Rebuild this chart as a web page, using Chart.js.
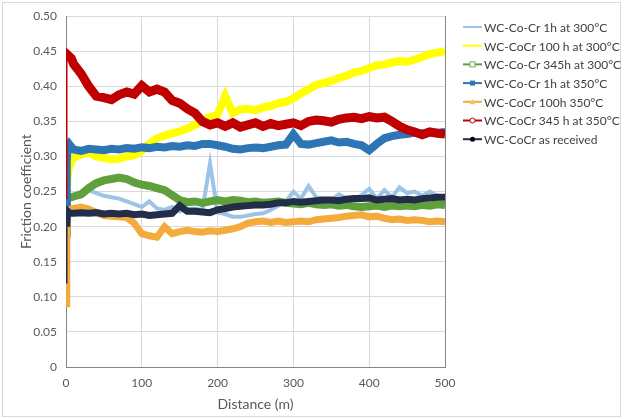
<!DOCTYPE html>
<html>
<head>
<meta charset="utf-8">
<script src="https://cdn.jsdelivr.net/npm/chart.js@4"></script>
<style>
  html, body { margin: 0; padding: 0; background: #fff; }
  #wrap { width: 624px; height: 419px; position: relative; }
</style>
</head>
<body>
<div id="wrap"><canvas id="frictionChart"></canvas></div>
<script>
// Distance (m) sampled along the tests
const distance = [0, 1, 2, 4, 7, 10, 20, 30, 40, 50, 60, 70, 80, 90, 100, 110, 120, 130, 140, 150,
  160, 170, 180, 190, 200, 210, 220, 230, 240, 250, 260, 270, 280, 290, 300, 310, 320, 330, 340, 350,
  360, 370, 380, 390, 400, 410, 420, 430, 440, 450, 460, 470, 480, 490, 500];

const seriesLabels = ['WC-Co-Cr 1h at 300°C', 'WC-CoCr 100 h at 300°C', 'WC-Co-Cr 345h at 300°C',
  'WC-Co-Cr 1h at 350°C', 'WC-CoCr 100h 350°C', 'WC-CoCr 345 h at 350°C', 'WC-CoCr as received'];

const cr1h300 = [0.22, 0.23, 0.235, 0.24, 0.245, 0.245, 0.25, 0.252, 0.248, 0.244, 0.242, 0.24, 0.236, 0.232, 0.228, 0.236, 0.226, 0.224, 0.228, 0.222,
  0.225, 0.226, 0.224, 0.29, 0.22, 0.218, 0.214, 0.214, 0.216, 0.218, 0.219, 0.224, 0.23, 0.236, 0.25, 0.24, 0.258, 0.242, 0.24, 0.238,
  0.246, 0.24, 0.238, 0.245, 0.254, 0.24, 0.252, 0.242, 0.256, 0.248, 0.25, 0.244, 0.25, 0.244, 0.242];

const cr100h300 = [0.21, 0.25, 0.27, 0.285, 0.293, 0.298, 0.303, 0.306, 0.300, 0.298, 0.296, 0.297, 0.300, 0.302, 0.308, 0.318, 0.326, 0.330, 0.333, 0.336,
  0.340, 0.345, 0.352, 0.356, 0.360, 0.386, 0.362, 0.367, 0.368, 0.366, 0.370, 0.372, 0.376, 0.378, 0.383, 0.390, 0.396, 0.402, 0.405, 0.408,
  0.412, 0.415, 0.420, 0.422, 0.426, 0.430, 0.431, 0.434, 0.436, 0.435, 0.438, 0.442, 0.446, 0.448, 0.450];

const cr345h300 = [0.24, 0.235, 0.24, 0.242, 0.242, 0.243, 0.246, 0.255, 0.262, 0.266, 0.268, 0.270, 0.268, 0.263, 0.260, 0.258, 0.255, 0.252, 0.245, 0.238,
  0.235, 0.236, 0.234, 0.236, 0.238, 0.236, 0.238, 0.237, 0.235, 0.236, 0.234, 0.235, 0.236, 0.234, 0.233, 0.232, 0.234, 0.232, 0.231, 0.232,
  0.230, 0.231, 0.229, 0.228, 0.229, 0.230, 0.228, 0.230, 0.229, 0.230, 0.229, 0.231, 0.230, 0.232, 0.231];

const cr1h350 = [0.22, 0.29, 0.315, 0.318, 0.314, 0.310, 0.308, 0.311, 0.310, 0.309, 0.311, 0.310, 0.312, 0.311, 0.313, 0.312, 0.314, 0.313, 0.315, 0.314,
  0.316, 0.315, 0.318, 0.318, 0.316, 0.314, 0.311, 0.310, 0.312, 0.313, 0.312, 0.314, 0.316, 0.317, 0.332, 0.318, 0.317, 0.319, 0.321, 0.323,
  0.320, 0.321, 0.318, 0.316, 0.309, 0.318, 0.326, 0.329, 0.331, 0.332, 0.334, 0.333, 0.335, 0.334, 0.335];

const cr100h350 = [0.09, 0.20, 0.215, 0.222, 0.225, 0.226, 0.228, 0.225, 0.220, 0.216, 0.215, 0.214, 0.213, 0.205, 0.190, 0.187, 0.185, 0.200, 0.190, 0.193,
  0.195, 0.193, 0.192, 0.194, 0.193, 0.195, 0.197, 0.200, 0.205, 0.207, 0.208, 0.206, 0.208, 0.206, 0.207, 0.208, 0.207, 0.210, 0.211, 0.212,
  0.213, 0.215, 0.216, 0.217, 0.214, 0.215, 0.212, 0.210, 0.211, 0.209, 0.210, 0.209, 0.207, 0.208, 0.207];

const cr345h350 = [0.24, 0.44, 0.445, 0.443, 0.440, 0.432, 0.418, 0.400, 0.386, 0.384, 0.381, 0.388, 0.392, 0.389, 0.401, 0.392, 0.396, 0.392, 0.380, 0.376,
  0.368, 0.362, 0.350, 0.345, 0.348, 0.343, 0.348, 0.342, 0.345, 0.348, 0.343, 0.347, 0.344, 0.346, 0.348, 0.344, 0.350, 0.352, 0.351, 0.349,
  0.353, 0.355, 0.356, 0.354, 0.357, 0.355, 0.356, 0.350, 0.343, 0.338, 0.335, 0.331, 0.335, 0.333, 0.332];

const asReceived = [0.12, 0.20, 0.222, 0.220, 0.219, 0.219, 0.220, 0.219, 0.220, 0.218, 0.219, 0.218, 0.219, 0.217, 0.218, 0.216, 0.217, 0.218, 0.219, 0.230,
  0.222, 0.222, 0.221, 0.220, 0.224, 0.226, 0.228, 0.229, 0.230, 0.231, 0.231, 0.232, 0.234, 0.234, 0.236, 0.235, 0.236, 0.237, 0.238, 0.238,
  0.237, 0.239, 0.240, 0.240, 0.241, 0.238, 0.239, 0.240, 0.238, 0.239, 0.238, 0.240, 0.241, 0.242, 0.242];

const seriesValues = [cr1h300, cr100h300, cr345h300, cr1h350, cr100h350, cr345h350, asReceived];

// styles (Excel-like)
const lineColors = ['#9DC3E6', '#FFFF00', '#5FA03C', '#2E75B6', '#F5AA3C', '#C00000', '#222D4A'];
const lineWidths = [4, 8, 8, 8, 7, 9, 7];
const legendMarkers = [null, null, 'squareOpen', 'square', 'triangle', 'circleOpen', 'circle'];
const markerColors = [null, null, '#70AD47', '#2E75B6', '#F5C26B', '#C00000', '#000000'];

const datasets = seriesValues.map((vals, i) => ({
  label: seriesLabels[i],
  data: distance.map((d, j) => ({ x: d, y: vals[j] })),
  borderColor: lineColors[i],
  backgroundColor: lineColors[i],
  borderWidth: lineWidths[i],
  pointRadius: 0,
  tension: 0,
  order: seriesValues.length - i,
  segment: {
    // first jump from the origin is drawn thin, as in the source
    borderWidth: ctx => (ctx.p0DataIndex === 0 && (i === 5 || i === 6)) ? 1.5 : lineWidths[i]
  }
}));

const frame = {
  id: 'frame',
  beforeDraw(chart) {
    const c = chart.ctx;
    c.save();
    c.fillStyle = '#fff';
    c.fillRect(0, 0, chart.width, chart.height);
    c.strokeStyle = '#D9D9D9';
    c.lineWidth = 1;
    c.strokeRect(2.5, 2.5, chart.width - 6, chart.height - 5);
    c.restore();
  },
  afterDatasetsDraw(chart) {
    const a = chart.chartArea, c = chart.ctx;
    c.save();
    c.strokeStyle = '#868686';
    c.lineWidth = 1;
    c.beginPath();
    c.moveTo(Math.round(a.right) + 0.5, a.top);
    c.lineTo(Math.round(a.right) + 0.5, a.bottom);
    c.stroke();
    c.restore();
  },
  afterDraw(chart) {
    // legend on the right
    const c = chart.ctx;
    const x0 = 463, y0 = 27, step = 18.7;
    c.save();
    c.font = '12px Lato, "Open Sans", sans-serif';
    c.textBaseline = 'middle';
    datasets.forEach((ds, i) => {
      const y = y0 + i * step;
      c.strokeStyle = ds.borderColor;
      c.lineWidth = 2;
      c.beginPath();
      c.moveTo(x0, y);
      c.lineTo(x0 + 19, y);
      c.stroke();
      const mx = x0 + 9.5, m = legendMarkers[i];
      c.fillStyle = markerColors[i];
      c.strokeStyle = markerColors[i];
      c.lineWidth = 1;
      if (m === 'square') c.fillRect(mx - 2.5, y - 2.5, 5, 5);
      if (m === 'squareOpen') { c.fillStyle = '#fff'; c.fillRect(mx - 2.5, y - 2.5, 5, 5); c.strokeRect(mx - 2.5, y - 2.5, 5, 5); }
      if (m === 'triangle') { c.beginPath(); c.moveTo(mx, y - 3); c.lineTo(mx + 3, y + 2.5); c.lineTo(mx - 3, y + 2.5); c.closePath(); c.fill(); }
      if (m === 'circle') { c.beginPath(); c.arc(mx, y, 2.5, 0, Math.PI * 2); c.fill(); }
      if (m === 'circleOpen') { c.fillStyle = '#fff'; c.beginPath(); c.arc(mx, y, 2.5, 0, Math.PI * 2); c.fill(); c.stroke(); }
      c.fillStyle = '#404040';
      c.fillText(ds.label, x0 + 21, y + 1);
    });
    c.restore();
  }
};

window.onload = function() {
  const ctx = document.getElementById('frictionChart').getContext('2d');
  new Chart(ctx, {
    type: 'line',
    data: { datasets: datasets },
    plugins: [frame],
    options: {
      responsive: true,
      maintainAspectRatio: false,
      animation: false,
      layout: { padding: { top: 16, right: 179, bottom: 0, left: 0 } },
      plugins: {
        legend: { display: false },
        tooltip: { enabled: false }
      },
      scales: {
        x: {
          type: 'linear',
          min: 0,
          max: 500,
          afterFit: s => { s.height = 52; },
          ticks: { stepSize: 100, padding: 9, color: '#595959', font: { family: 'Lato, "Open Sans", sans-serif', size: 12 } },
          grid: { color: '#D9D9D9', drawTicks: false },
          border: { color: '#868686' },
          title: { display: true, text: 'Distance (m)', color: '#595959', padding: { top: 0, bottom: 6 },
            font: { family: 'Lato, "Open Sans", sans-serif', size: 14 } }
        },
        y: {
          min: 0,
          max: 0.5,
          afterFit: s => { s.width = 66; },
          ticks: { stepSize: 0.05, padding: 9, color: '#595959', font: { family: 'Lato, "Open Sans", sans-serif', size: 12 } },
          grid: { color: '#D9D9D9', drawTicks: false },
          border: { color: '#868686' },
          title: { display: true, text: 'Friction coefficient', color: '#595959', padding: { top: 18, bottom: 0 },
            font: { family: 'Lato, "Open Sans", sans-serif', size: 14 } }
        }
      }
    }
  });
};
</script>
</body>
</html>
